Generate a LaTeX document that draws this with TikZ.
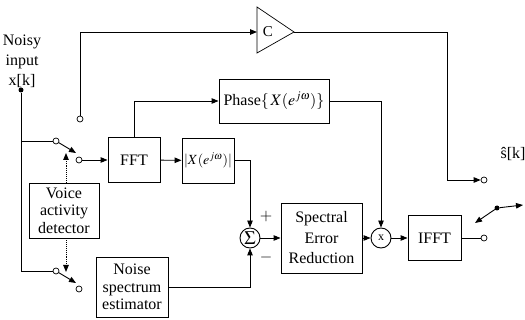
\documentclass[tikz,border=0pt]{standalone}
\usepackage{mathptmx}
\usepackage{fontspec}
\setmainfont{Liberation Serif}
\usetikzlibrary{arrows.meta,calc}
\tikzset{
 blk/.style={draw, line width=0.9pt, inner sep=0pt, align=center, font=\fontsize{16}{17.5}\selectfont},
 ln/.style={line width=0.9pt},
 arr/.style={ln, -{Triangle[length=7pt,width=5.5pt]}},
 contact/.style={circle, draw, line width=0.7pt, fill=white, minimum size=6pt, inner sep=0pt},
 dot/.style={circle, fill, minimum size=5pt, inner sep=0pt},
 opnode/.style={circle, draw, line width=0.9pt, minimum size=20pt, inner sep=0pt},
 lbl/.style={align=center, font=\fontsize{16}{20}\selectfont, inner sep=0pt},
}
\begin{document}
\begin{tikzpicture}[x=1pt,y=-1pt]
\useasboundingbox (0,0) rectangle (525,320);
% input
\node[dot] (in) at (21,90) {};
\node[lbl] (noisy) at (22,61) {Noisy\\input\\x[k]};
\coordinate (j1) at (21,141);
\coordinate (j2) at (21,271);
\node[contact] (sa) at (56,141) {};
\node[contact] (ca) at (79,160) {};
\coordinate (ta) at (76,153);
\node[contact] (sb) at (56,271) {};
\node[contact] (cb) at (79,289) {};
\coordinate (tb) at (76,283);
\node[contact] (cg) at (80,119) {};
% blocks
\node[blk, minimum width=52pt, minimum height=45pt] (fft) at (134,160) {FFT};
\node[blk, minimum width=52pt, minimum height=45pt, font=\fontsize{14}{16}\selectfont] (mag) at (208,160.5) {$|X(e^{j\omega})|$};
\node[blk, minimum width=110pt, minimum height=44pt] (phase) at (274,101) {Phase$\{\,X(e^{j\omega})\}$};
\node[blk, minimum width=70pt, minimum height=55pt] (vad) at (64,210.5) {Voice\\activity\\detector};
\node[blk, minimum width=72pt, minimum height=60pt] (noise) at (132,287) {Noise\\spectrum\\estimator};
\node[opnode] (sum) at (250,238) {\fontsize{19}{19}\selectfont$\Sigma$};
\node[blk, minimum width=81pt, minimum height=70pt, font=\fontsize{16}{20.5}\selectfont] (ser) at (321.5,238) {Spectral\\Error\\Reduction};
\node[opnode] (mul) at (381,238) {\fontsize{12}{12}\selectfont x};
\node[blk, minimum width=53pt, minimum height=45pt] (ifft) at (434.5,238) {IFFT};
\node[contact] (co1) at (484,180) {};
\node[contact] (co2) at (484,238) {};
\node[dot] (od) at (497,208) {};
\coordinate (oa) at (475,223);
\coordinate (oe) at (523,205);
\node[lbl] (shat) at (513,154) {ŝ[k]};
% gain
\coordinate (gin) at (257,32);
\coordinate (gout) at (294,32);
\draw[line width=0.7pt] (257,7) -- (gout) -- (257,53) -- cycle;
\node[lbl, font=\fontsize{15}{15}\selectfont] (gC) at (268,32) {C};
\node[lbl] (plus) at (266,217) {$+$};
\node[lbl] (minus) at (266,258) {$-$};
\coordinate (vt) at (66,153);
\coordinate (vb) at (66,272);
\coordinate (k) at (447,180);
% connectors
\draw[ln] (in) -- (j1) -- (sa);
\draw[ln] (j1) -- (j2) -- (sb);
\draw[arr] (sa) -- (ta);
\draw[arr] (sb) -- (tb);
\draw[arr] (ca) -- (fft.west);
\draw[arr] (fft) -- (mag);
\draw[arr] (fft.north) |- (phase.west);
\draw[arr] (mag.east) -| (sum.north);
\draw[arr] (noise.east) -| (sum.south);
\draw[arr] (sum) -- (ser);
\draw[arr] (ser) -- (mul);
\draw[arr] (phase.east) -| (mul.north);
\draw[arr] (mul) -- (ifft);
\draw[ln] (ifft.east) -- (co2);
\draw[arr] (cg) |- (gin);
\draw[arr] (gout) -| (k) -- (co1);
\draw[arr, densely dotted] (vad.north -| vt) -- (vt);
\draw[arr, densely dotted] (vad.south -| vb) -- (vb);
\draw[arr] (od) -- (oa);
\draw[arr] (od) -- (oe);
\end{tikzpicture}
\end{document}
